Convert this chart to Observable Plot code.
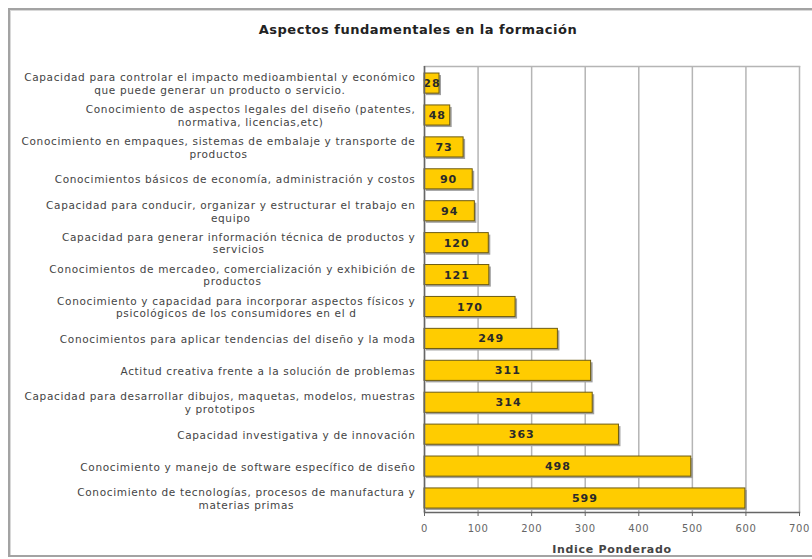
<!DOCTYPE html>
<html>
<head>
<meta charset="utf-8">
<script src="https://cdn.jsdelivr.net/npm/d3@7"></script>
<script src="https://cdn.jsdelivr.net/npm/@observablehq/plot@0.6"></script>
<style>
  html, body { margin: 0; padding: 0; background: #fff; }
  #wrap { position: relative; width: 812px; height: 559px; overflow: hidden; font-family: "DejaVu Sans", sans-serif; }
  #box { position: absolute; left: 8px; top: 8px; width: 820px; height: 545px; border: 2px solid #a3a3a3; border-right: none; box-shadow: inset 1px 1px 0 #d8d8d8; }
  #title { position: absolute; left: 168px; width: 500px; top: 22px; text-align: center; font-weight: bold; font-size: 13px; letter-spacing: 0.5px; line-height: 16px; color: #222; }
  #chart { position: absolute; left: 0; top: 0; }
  #chart g[aria-label="y-axis tick label"] { letter-spacing: 0.66px; }
  #chart g[aria-label="x-axis tick label"] { letter-spacing: 0.6px; }
  #chart g.vlabels { letter-spacing: 1px; }
  #chart g.xtitle { letter-spacing: 0.7px; }
</style>
</head>
<body>
<div id="wrap">
  <div id="box"></div>
  <div id="title">Aspectos fundamentales en la formación</div>
  <div id="chart"></div>
</div>
<script>
const categories = [
  "Capacidad para controlar el impacto medioambiental y económico\nque puede generar un producto o servicio.",
  "Conocimiento de aspectos legales del diseño (patentes,\nnormativa, licencias,etc)",
  "Conocimiento en empaques, sistemas de embalaje y transporte de\nproductos",
  "Conocimientos básicos de economía, administración y costos",
  "Capacidad para conducir, organizar y estructurar el trabajo en\nequipo",
  "Capacidad para generar información técnica de productos y\nservicios",
  "Conocimientos de mercadeo, comercialización y exhibición de\nproductos",
  "Conocimiento y capacidad para incorporar aspectos físicos y\npsicológicos de los consumidores en el d",
  "Conocimientos para aplicar tendencias del diseño y la moda",
  "Actitud creativa frente a la solución de problemas",
  "Capacidad para desarrollar dibujos, maquetas, modelos, muestras\ny prototipos",
  "Capacidad investigativa y de innovación",
  "Conocimiento y manejo de software específico de diseño",
  "Conocimiento de tecnologías, procesos de manufactura y\nmaterias primas"
];
const values = [28, 48, 73, 90, 94, 120, 121, 170, 249, 311, 314, 363, 498, 599];
const xTicks = [0, 100, 200, 300, 400, 500, 600, 700];
const xLabel = "Indice Ponderado";

const data = categories.map((c, i) => ({label: c, value: values[i]}));

const plot = Plot.plot({
  width: 812,
  height: 559,
  marginTop: 66,
  marginLeft: 424,
  marginRight: 13,
  marginBottom: 47,
  style: {fontFamily: "DejaVu Sans, sans-serif", fontSize: "10px", background: "transparent", color: "#333"},
  x: {domain: [0, 700], ticks: xTicks},
  y: {domain: categories, paddingInner: 0.37, paddingOuter: 0.172, align: 0.64, round: false, label: null},
  marks: [
    Plot.gridX(xTicks, {stroke: "#b5b5b5", strokeOpacity: 1, strokeWidth: 1.5}),
    Plot.frame({anchor: "top", stroke: "#b5b5b5", strokeWidth: 1.5}),
    Plot.barX(data, {x: "value", y: "label", fill: "#a0a0a0", dx: 2, dy: 2}),
    Plot.barX(data, {x: "value", y: "label", fill: "#FFCC00", stroke: "#6e5c12", strokeWidth: 1}),
    Plot.text(data, {x: d => d.value / 2, y: "label", text: d => String(d.value), fontWeight: "bold", fontSize: 11, fill: "#2a2a2a", className: "vlabels"}),
    Plot.ruleX([0], {stroke: "#666", strokeWidth: 1.5}),
    Plot.frame({anchor: "bottom", stroke: "#666", strokeWidth: 1.5}),
    Plot.axisX({ticks: xTicks, tickSize: 4, tickPadding: 8, label: null, fontSize: 10, fill: "#666", stroke: "#666"}),
    Plot.axisY({tickSize: 0, tickPadding: 9, fontSize: 10.5, lineHeight: 1.2, fill: "#444", label: null}),
    Plot.text([xLabel], {frameAnchor: "bottom", dy: 37, lineAnchor: "middle", fontWeight: "bold", fontSize: 11, fill: "#444", className: "xtitle"})
  ]
});
document.getElementById("chart").appendChild(plot);

// center the lines of each multi-line label within its right-aligned block
plot.querySelectorAll('g[aria-label="y-axis tick label"] text').forEach(t => {
  const spans = t.querySelectorAll("tspan");
  if (spans.length > 1) {
    const w = Math.max(...[...spans].map(s => s.getComputedTextLength()));
    spans.forEach(s => {
      s.setAttribute("text-anchor", "middle");
      s.setAttribute("x", String((+s.getAttribute("x") || 0) - w / 2));
    });
  }
});
</script>
</body>
</html>
